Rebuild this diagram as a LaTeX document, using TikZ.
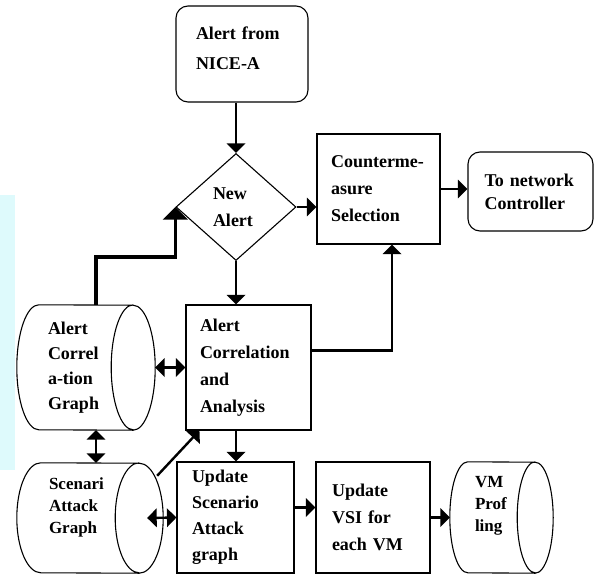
\documentclass[tikz,border=0pt]{standalone}
\usepackage{fontspec}
\setmainfont{Liberation Serif}
\usetikzlibrary{arrows}
\usetikzlibrary{shapes.geometric}
\definecolor{cyanbg}{RGB}{222,250,252}

% lying drum: node name, end x radius, end y radius
\newcommand{\drawcyl}[3]{%
  \draw[line width=1.1pt] ([xshift=#2]#1.north west)
      arc[start angle=90,end angle=270,x radius=#2,y radius=#3]
      -- ([xshift=-#2]#1.south east)
      arc[start angle=270,end angle=450,x radius=#2,y radius=#3]
      -- cycle
      ([xshift=-#2]#1.north east)
      arc[start angle=90,end angle=270,x radius=#2,y radius=#3];}

\begin{document}
\begin{tikzpicture}[x=1pt,y=-1pt,
    txt/.style={align=left,inner sep=0pt,font=\bfseries\fontsize{18}{27}\selectfont},
    box/.style={txt,draw,line width=1.1pt},
    rbox/.style={box,rounded corners=12pt},
    flow/.style={line width=2.4pt,-triangle 90},
    both/.style={line width=2.4pt,triangle 90-triangle 90},
  ]
  \fill[cyanbg] (0,195) rectangle (15,470);
  \useasboundingbox (0,0) rectangle (594,575);

  \node[rbox,minimum width=132,minimum height=96,text width=92,text depth=42pt,
        font=\bfseries\fontsize{18}{30}\selectfont] (nice) at (242,54) {Alert from\\NICE-A};
  \node[box,diamond,minimum width=120,minimum height=107,text width=46] (newalert) at (236,207) {New\\Alert};
  \node[box,minimum width=123,minimum height=110,text width=95] (cms) at (378.5,189) {Counterme-\\asure\\Selection};
  \node[rbox,minimum width=125,minimum height=79,text width=92,
        font=\bfseries\fontsize{18}{23}\selectfont] (tnc) at (530.5,191.5) {To network\\Controller};
  \node[box,minimum width=125,minimum height=125,text width=97] (aca) at (248.5,367.5) {Alert\\Correlation\\and\\Analysis};

  \node[txt,minimum width=138,minimum height=125,text width=76,
        font=\bfseries\fontsize{18}{25}\selectfont] (acg) at (86,367.5) {Alert\\Correl\\a-tion\\Graph};
  \drawcyl{acg}{22pt}{62.5pt}
  \node[txt,minimum width=146,minimum height=110,text width=82,text depth=68pt,
        font=\bfseries\fontsize{17}{22}\selectfont] (sag) at (90,518) {Scenari\\Attack\\Graph};
  \drawcyl{sag}{24pt}{55pt}
  \node[box,minimum width=117,minimum height=111,text width=87,
        font=\bfseries\fontsize{18}{26}\selectfont] (usa) at (235.5,517.5) {Update\\Scenario\\Attack\\graph};
  \node[box,minimum width=114,minimum height=111,text width=82] (uvsi) at (373,517.5) {Update\\VSI for\\each VM};
  \node[txt,minimum width=103,minimum height=111,text width=53,text depth=71pt,
        font=\bfseries\fontsize{17}{22}\selectfont] (vmp) at (501.5,517.5) {VM\\Prof\\ling};
  \drawcyl{vmp}{18pt}{55.5pt}

  \draw[flow] (newalert.north |- nice.south) -- (newalert.north);
  \draw[flow] (newalert.east) -- (newalert.east -| cms.west);
  \draw[flow] (cms.east) -- (cms.east -| tnc.west);
  \draw[flow] (newalert.south) -- (newalert.south |- aca.north);
  \draw[flow] ([yshift=17pt]aca.east) -| ([xshift=13.5pt]cms.south);
  \draw[flow,line width=3.6pt] ([xshift=10pt]acg.north) |- ([yshift=-50pt]newalert.west) -- (newalert.west);

  \draw[both] (acg.east) -- (aca.west);
  \draw[both] ([xshift=10pt]acg.south) -- ([xshift=10pt]acg.south |- sag.north);
  \draw[flow] ([xshift=-6pt]sag.30) -- ([xshift=14pt]aca.south west);
  \draw[flow] ([xshift=-12.5pt]aca.south) -- ([xshift=-12.5pt]aca.south |- usa.north);
  \draw[both] ([xshift=-16pt]sag.east) -- (usa.west);
  \draw[flow] ([yshift=10pt]usa.east) -- ([yshift=10pt]usa.east -| uvsi.west);
  \draw[flow] (uvsi.east) -- (vmp.west);
\end{tikzpicture}
\end{document}
